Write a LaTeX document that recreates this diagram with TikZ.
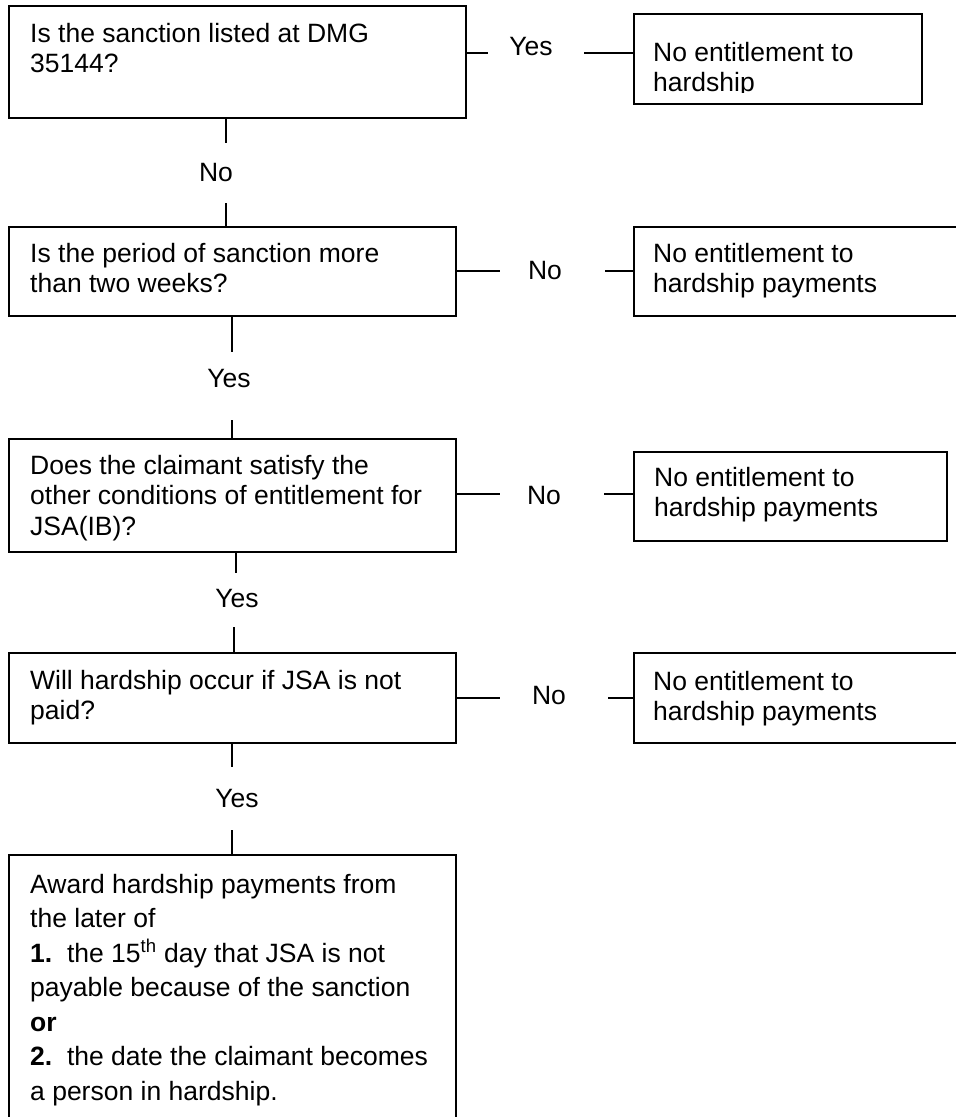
\documentclass[tikz,border=0pt]{standalone}
\usepackage{fontspec}
\setmainfont{Liberation Sans}
\newcommand\fsz{\fontsize{26.5}{30.5}\selectfont}
\newcommand\fszb{\fontsize{26.5}{34.5}\selectfont}
\tikzset{
  box/.style={draw, line width=1.8pt, inner sep=0pt, anchor=north west},
  conn/.style={line width=1.8pt},
  lbl/.style={inner sep=0pt, anchor=base, font=\fsz},
  txt/.style={inner sep=0pt, anchor=base west, font=\fsz},
}
\begin{document}
\begin{tikzpicture}[x=1pt,y=-1pt]
\useasboundingbox (0,0) rectangle (956,1117);
\clip (0,0) rectangle (956,1117);
\fill[white] (0,0) rectangle (956,1117);

% boxes
\node[box, minimum width=457pt, minimum height=112pt] (b1) at (8,5) {};
\node[box, minimum width=288pt, minimum height=90pt]  (r1) at (633,13) {};
\node[box, minimum width=447pt, minimum height=89pt]  (b2) at (8,226) {};
\node[box, minimum width=340pt, minimum height=89pt]  (r2) at (633,226) {};
\node[box, minimum width=447pt, minimum height=113pt] (b3) at (8,438) {};
\node[box, minimum width=313pt, minimum height=89pt]  (r3) at (633,451) {};
\node[box, minimum width=447pt, minimum height=90pt]  (b4) at (8,652) {};
\node[box, minimum width=340pt, minimum height=90pt]  (r4) at (633,652) {};
\node[box, minimum width=447pt, minimum height=280pt] (b5) at (8,854) {};

% texts
\node[txt] (t1) at (30,42) {\begin{tabular}[t]{@{}l@{}}Is the sanction listed at DMG\\35144?\end{tabular}};
\begin{scope}
\clip (633,13) rectangle (921,92.5);
\node[txt] (tr1) at (653,61) {\begin{tabular}[t]{@{}l@{}}No entitlement to\\hardship\end{tabular}};
\end{scope}
\node[txt] (t2) at (30,262) {\begin{tabular}[t]{@{}l@{}}Is the period of sanction more\\than two weeks?\end{tabular}};
\node[txt] (tr2) at (653,262) {\begin{tabular}[t]{@{}l@{}}No entitlement to\\hardship payments\end{tabular}};
\node[txt] (t3) at (30,474) {\begin{tabular}[t]{@{}l@{}}Does the claimant satisfy the\\other conditions of entitlement for\\JSA(IB)?\end{tabular}};
\node[txt] (tr3) at (654,486) {\begin{tabular}[t]{@{}l@{}}No entitlement to\\hardship payments\end{tabular}};
\node[txt] (t4) at (30,689) {\begin{tabular}[t]{@{}l@{}}Will hardship occur if JSA is not\\paid?\end{tabular}};
\node[txt] (tr4) at (653,690) {\begin{tabular}[t]{@{}l@{}}No entitlement to\\hardship payments\end{tabular}};
\node[txt, font=\fszb] (t5) at (30,893) {\begin{tabular}[t]{@{}l@{}}Award hardship payments from\\the later of\\\textbf{1.}\ \ the 15\textsuperscript{th} day that JSA is not\\payable because of the sanction\\\textbf{or}\\\textbf{2.}\ \ the date the claimant becomes\\a person in hardship.\end{tabular}};

% labels
\node[lbl] (l1) at (531,55) {Yes};
\node[lbl] (l2) at (545,279) {No};
\node[lbl] (l3) at (544,504) {No};
\node[lbl] (l4) at (549,704) {No};
\node[lbl] (v1) at (216,181) {No};
\node[lbl] (v2) at (229,387) {Yes};
\node[lbl] (v3) at (237,607) {Yes};
\node[lbl] (v4) at (237,807) {Yes};

% horizontal connectors
\coordinate (h1a) at (488,53);  \coordinate (h1b) at (584,53);
\draw[conn] (b1.east |- h1a) -- (h1a);
\draw[conn] (h1b) -- (r1.west |- h1b);
\coordinate (h2a) at (500,271); \coordinate (h2b) at (605,271);
\draw[conn] (b2.east |- h2a) -- (h2a);
\draw[conn] (h2b) -- (r2.west |- h2b);
\coordinate (h3a) at (500,494); \coordinate (h3b) at (604,494);
\draw[conn] (b3.east |- h3a) -- (h3a);
\draw[conn] (h3b) -- (r3.west |- h3b);
\coordinate (h4a) at (500,698); \coordinate (h4b) at (608,698);
\draw[conn] (b4.east |- h4a) -- (h4a);
\draw[conn] (h4b) -- (r4.west |- h4b);

% vertical connectors
\coordinate (v1a) at (226,143); \coordinate (v1b) at (226,203);
\draw[conn] (b1.south -| v1a) -- (v1a);
\draw[conn] (v1b) -- (b2.north -| v1b);
\coordinate (v2a) at (232,352); \coordinate (v2b) at (232,420);
\draw[conn] (b2.south -| v2a) -- (v2a);
\draw[conn] (v2b) -- (b3.north -| v2b);
\coordinate (v3a) at (236,573); \coordinate (v3b) at (234,627);
\draw[conn] (b3.south -| v3a) -- (v3a);
\draw[conn] (v3b) -- (b4.north -| v3b);
\coordinate (v4a) at (232,767); \coordinate (v4b) at (232,830);
\draw[conn] (b4.south -| v4a) -- (v4a);
\draw[conn] (v4b) -- (b5.north -| v4b);
\end{tikzpicture}
\end{document}
